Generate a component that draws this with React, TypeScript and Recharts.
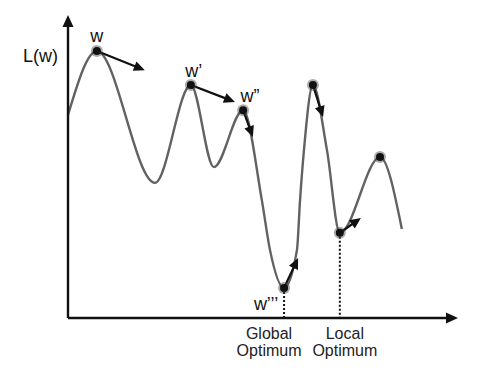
import React from 'react';
import { ComposedChart, Line, XAxis, YAxis, ReferenceLine, ReferenceDot } from 'recharts';

// loss curve (x: 0-100 along the weight axis, y: 0-100 loss)
const curveX = [0, 7.4, 22.3, 31.5, 37.4, 44.9, 49.7, 51.8, 55.4, 58.7, 59.5, 60.5, 62.8, 66.4, 69.7, 80, 85.6];
const curveY = [67, 88.1, 44.6, 76.9, 49.8, 68.6, 38.9, 22.4, 9.9, 22.4, 38.9, 55.4, 76.9, 55.4, 28.1, 53.1, 29.4];

// marked points on the curve (indexes into curveX/curveY)
const markIdx = [1, 3, 5, 8, 12, 14, 15];
const markNames = ['w', 'w’', 'w”', 'w’’’', '', '', ''];
// gradient step arrows: start index -> end point
const arrowFrom = [1, 3, 5, 8, 12, 14];
const arrowToX = [19.7, 42.8, 47.4, 59.0, 65.4, 75.1];
const arrowToY = [81.8, 71.3, 59.7, 19.8, 66.3, 33.0];

// optimum markers
const optimumIdx = [8, 14];
const optimumLabels = [['Global', 'Optimum'], ['Local', 'Optimum']];

const data = curveX.map((x, i) => ({ x, loss: curveY[i] }));

const FONT = '"Liberation Sans", Arial, Helvetica, sans-serif';

// label offsets in px relative to the dot
const nameOffset: Record<string, [number, number]> = {
  'w': [0, -9],
  'w’': [3, -8],
  'w”': [7, -8],
  'w’’’': [-18, 22],
};
const tickOffset = [-15, 5];

const Arrow = (props: any) => {
  const { x1, y1, x2, y2 } = props;
  const head = props.head ?? 11;
  const half = props.half ?? 5;
  const width = props.width ?? 2.2;
  const a = Math.atan2(y2 - y1, x2 - x1);
  const c = Math.cos(a), s = Math.sin(a);
  const bx = x2 - head * c, by = y2 - head * s;
  const pts = `${x2},${y2} ${bx - half * s},${by + half * c} ${bx + half * s},${by - half * c}`;
  return (
    <g>
      <line x1={x1} y1={y1} x2={bx + c} y2={by + s} stroke="#111" strokeWidth={width} />
      <polygon points={pts} fill="#111" />
    </g>
  );
};

const MarkDot = (props: any) => {
  const { cx, cy, name } = props;
  const off = nameOffset[name] || [0, 0];
  return (
    <g>
      <circle cx={cx} cy={cy} r={6} fill="#444" opacity={0.45} />
      <circle cx={cx} cy={cy} r={4} fill="#111" />
      {name ? (
        <text x={cx + off[0]} y={cy + off[1]} textAnchor="middle" fontSize={18} fontFamily={FONT} fill="#111">
          {name}
        </text>
      ) : null}
    </g>
  );
};

const OptimumTick = (props: any) => {
  const { x, y, index } = props;
  const lines = optimumLabels[index] || [];
  const cx = x + tickOffset[index];
  return (
    <text x={cx} y={y} textAnchor="middle" fontSize={16} fontFamily={FONT} fill="#222">
      <tspan x={cx} dy={21}>{lines[0]}</tspan>
      <tspan x={cx} dy={17}>{lines[1]}</tspan>
    </text>
  );
};

export default function App() {
  return (
    <div style={{ position: 'absolute', left: 0, top: 0, width: 488, height: 376, background: '#fff' }}>
      <ComposedChart width={488} height={376} data={data} margin={{ top: 15, right: 30, left: 68, bottom: 0 }}>
        <XAxis
          dataKey="x"
          type="number"
          domain={[0, 100]}
          ticks={optimumIdx.map((i) => curveX[i])}
          interval={0}
          axisLine={false}
          tickLine={false}
          tickSize={0}
          tickMargin={0}
          height={58}
          tick={<OptimumTick />}
        />
        <YAxis type="number" domain={[0, 100]} hide />

        {optimumIdx.map((i) => (
          <ReferenceLine
            key={`opt${i}`}
            segment={[{ x: curveX[i], y: curveY[i] }, { x: curveX[i], y: 0 }]}
            stroke="#111"
            strokeWidth={2}
            strokeDasharray="2 2"
          />
        ))}

        <Line
          dataKey="loss"
          type="monotone"
          stroke="#626262"
          strokeWidth={2.4}
          dot={false}
          activeDot={false}
          isAnimationActive={false}
        />

        {/* axes with arrow heads */}
        <ReferenceLine
          segment={[{ x: 0, y: 0 }, { x: 0, y: 100 }]}
          shape={(p: any) => <Arrow {...p} head={12} half={5.5} width={2.4} />}
        />
        <ReferenceLine
          segment={[{ x: 0, y: 0 }, { x: 100, y: 0 }]}
          shape={(p: any) => <Arrow {...p} head={12} half={5.5} width={2.4} />}
        />

        {arrowFrom.map((i, k) => (
          <ReferenceLine
            key={`arr${k}`}
            segment={[{ x: curveX[i], y: curveY[i] }, { x: arrowToX[k], y: arrowToY[k] }]}
            shape={(p: any) => <Arrow {...p} />}
          />
        ))}

        {markIdx.map((i, k) => (
          <ReferenceDot
            key={`dot${k}`}
            x={curveX[i]}
            y={curveY[i]}
            r={4}
            shape={(p: any) => <MarkDot {...p} name={markNames[k]} />}
          />
        ))}

        <ReferenceDot
          x={0}
          y={84.5}
          r={0}
          shape={(p: any) => (
            <text x={p.cx - 10} y={p.cy} textAnchor="end" fontSize={18} fontFamily={FONT} fill="#111">
              L(w)
            </text>
          )}
        />
      </ComposedChart>
    </div>
  );
}
